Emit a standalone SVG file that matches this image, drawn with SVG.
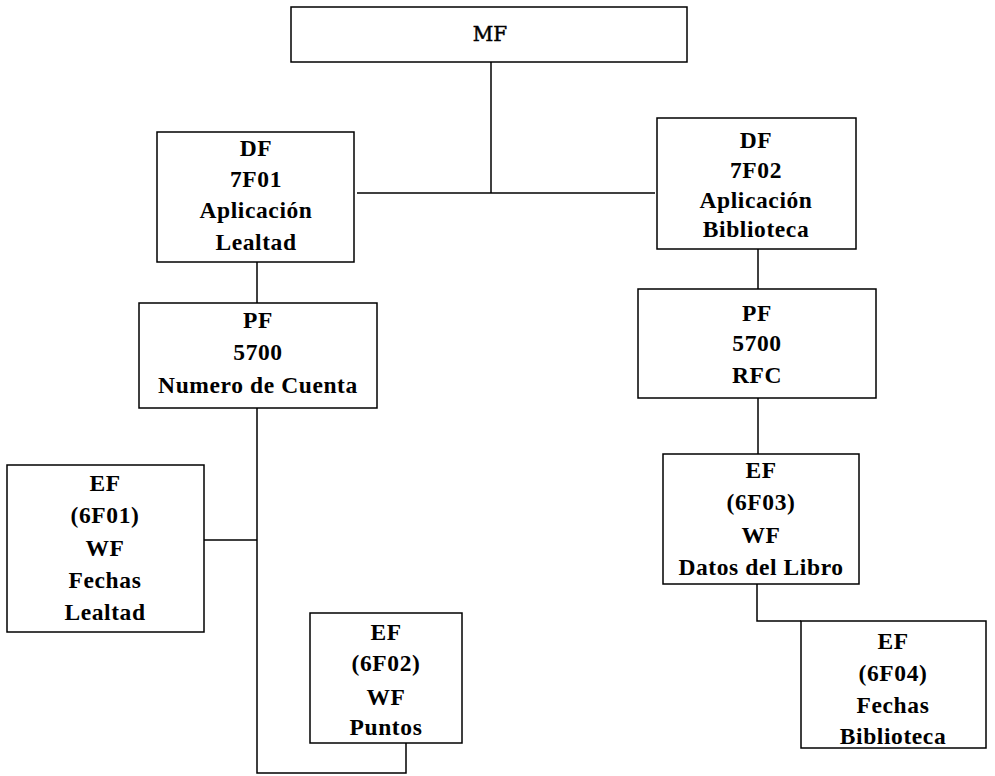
<svg xmlns="http://www.w3.org/2000/svg" width="995" height="776" viewBox="0 0 995 776">
  <style>
    .box { fill: #ffffff; stroke: #000000; stroke-width: 1.5; }
    .wire { fill: none; stroke: #000000; stroke-width: 1.5; }
    .lbl { font-family: "Liberation Serif", "Times New Roman", serif; font-weight: bold; font-size: 23.5px; letter-spacing: 0.6px; text-anchor: middle; fill: #000000; }
    .root { font-family: "DejaVu Serif", "Liberation Serif", serif; font-size: 20px; text-anchor: middle; fill: #000000; stroke: #000000; stroke-width: 0.5; }
  </style>
  <rect width="995" height="776" fill="#ffffff"/>

  <!-- connectors -->
  <g id="connectors" class="wire">
    <path d="M491 62 V193"/>
    <path d="M357 193 H655"/>
    <path d="M257 262 V303"/>
    <path d="M257 408 V773 H406 V743"/>
    <path d="M204 540 H257"/>
    <path d="M758 249 V289"/>
    <path d="M758 398 V454"/>
    <path d="M757 584 V621 H801"/>
  </g>

  <!-- master file -->
  <g id="mf">
    <rect class="box" x="291" y="7" width="396" height="55"/>
    <text class="root" x="490" y="41">MF</text>
  </g>

  <!-- dedicated files -->
  <g id="df-7f01">
    <rect class="box" x="157" y="132" width="197" height="130"/>
    <text class="lbl" x="256" y="156">DF</text>
    <text class="lbl" x="256" y="187">7F01</text>
    <text class="lbl" x="256" y="218">Aplicación</text>
    <text class="lbl" x="256" y="250">Lealtad</text>
  </g>

  <g id="df-7f02">
    <rect class="box" x="657" y="118" width="199" height="131"/>
    <text class="lbl" x="756" y="148">DF</text>
    <text class="lbl" x="756" y="178">7F02</text>
    <text class="lbl" x="756" y="208">Aplicación</text>
    <text class="lbl" x="756" y="237">Biblioteca</text>
  </g>

  <!-- program files -->
  <g id="pf-left">
    <rect class="box" x="139" y="303" width="238" height="105"/>
    <text class="lbl" x="258" y="328">PF</text>
    <text class="lbl" x="258" y="360">5700</text>
    <text class="lbl" x="258" y="393">Numero de Cuenta</text>
  </g>

  <g id="pf-right">
    <rect class="box" x="638" y="289" width="238" height="109"/>
    <text class="lbl" x="757" y="321">PF</text>
    <text class="lbl" x="757" y="351">5700</text>
    <text class="lbl" x="757" y="383">RFC</text>
  </g>

  <!-- elementary files -->
  <g id="ef-6f01">
    <rect class="box" x="7" y="465" width="197" height="167"/>
    <text class="lbl" x="105" y="491">EF</text>
    <text class="lbl" x="105" y="523">(6F01)</text>
    <text class="lbl" x="105" y="556">WF</text>
    <text class="lbl" x="105" y="588">Fechas</text>
    <text class="lbl" x="105" y="620">Lealtad</text>
  </g>

  <g id="ef-6f02">
    <rect class="box" x="310" y="613" width="152" height="130"/>
    <text class="lbl" x="386" y="640">EF</text>
    <text class="lbl" x="386" y="671">(6F02)</text>
    <text class="lbl" x="386" y="705">WF</text>
    <text class="lbl" x="386" y="735">Puntos</text>
  </g>

  <g id="ef-6f03">
    <rect class="box" x="663" y="454" width="196" height="130"/>
    <text class="lbl" x="761" y="478">EF</text>
    <text class="lbl" x="761" y="510">(6F03)</text>
    <text class="lbl" x="761" y="543">WF</text>
    <text class="lbl" x="761" y="575">Datos del Libro</text>
  </g>

  <g id="ef-6f04">
    <rect class="box" x="801" y="621" width="185" height="127"/>
    <text class="lbl" x="893" y="649">EF</text>
    <text class="lbl" x="893" y="681">(6F04)</text>
    <text class="lbl" x="893" y="713">Fechas</text>
    <text class="lbl" x="893" y="744">Biblioteca</text>
  </g>
</svg>
